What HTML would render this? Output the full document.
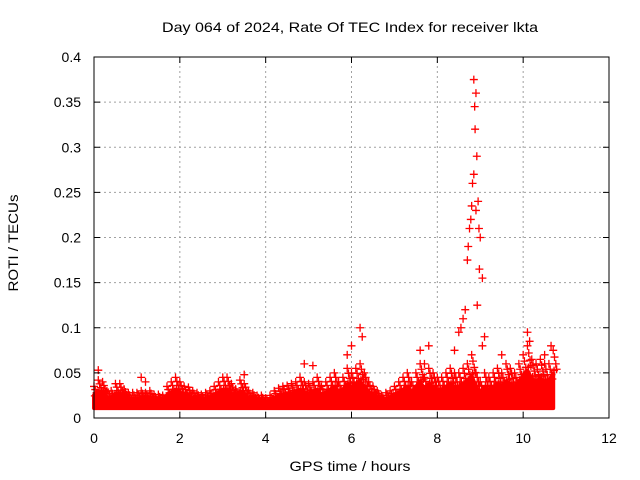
<!DOCTYPE html>
<html><head><meta charset="utf-8"><style>
body{margin:0;background:#fff;}
svg{display:block;font-family:"Liberation Sans",sans-serif;}
</style></head><body>
<svg id="chart" width="640" height="480">
<text x="350" y="32" font-size="14" text-anchor="middle" textLength="376" lengthAdjust="spacingAndGlyphs">Day 064 of 2024, Rate Of TEC Index for receiver lkta</text>
<text x="350" y="471" font-size="14" text-anchor="middle" textLength="121" lengthAdjust="spacingAndGlyphs">GPS time / hours</text>
<text transform="translate(18,243) rotate(-90)" font-size="14" text-anchor="middle" textLength="97" lengthAdjust="spacingAndGlyphs">ROTI / TECUs</text>
<g id="grid"></g><g id="marks"></g><g id="axes"></g>
</svg>
<script>
const xTicks=[0,2,4,6,8,10,12];
const yTicks=[0,0.05,0.1,0.15,0.2,0.25,0.3,0.35,0.4];
const yTickLabels=["0","0.05","0.1","0.15","0.2","0.25","0.3","0.35","0.4"];
const bandStart=0, bandStep=0.1;
const bandHigh=[0.035,0.042,0.04,0.03,0.03,0.038,0.038,0.032,0.028,0.028,0.028,
0.03,0.028,0.03,0.026,0.026,0.025,0.035,0.04,0.045,0.04,
0.035,0.034,0.03,0.028,0.026,0.028,0.03,0.035,0.04,0.045,
0.045,0.038,0.032,0.042,0.038,0.03,0.028,0.025,0.025,0.022,
0.025,0.03,0.033,0.035,0.036,0.038,0.04,0.045,0.04,0.038,
0.04,0.045,0.035,0.04,0.045,0.05,0.04,0.045,0.055,0.05,
0.055,0.06,0.05,0.04,0.035,0.03,0.025,0.028,0.03,0.035,
0.04,0.045,0.05,0.04,0.05,0.06,0.045,0.055,0.05,0.045,
0.045,0.05,0.055,0.05,0.05,0.055,0.06,0.07,0.05,0.04,
0.05,0.045,0.05,0.055,0.05,0.06,0.055,0.05,0.06,0.07,
0.08,0.065,0.06,0.065,0.06,0.06,0.075];
const bandLow=0.011;
const outT=[0.1,1.1,1.2,3.5,4.9,5.1,5.9,6.0,6.2,6.25,7.6,7.7,7.8,8.4,8.5,8.55,8.6,8.65,8.7,8.72,8.75,8.78,8.8,8.82,8.85,8.88,8.9,8.85,8.87,8.92,8.95,8.97,9.0,8.9,8.98,9.05,8.93,9.1,9.05,9.5,10.1,10.15,10.5,10.65];
const outV=[0.053,0.045,0.04,0.048,0.06,0.058,0.07,0.08,0.1,0.09,0.075,0.06,0.08,0.075,0.095,0.1,0.11,0.12,0.175,0.19,0.21,0.22,0.235,0.26,0.27,0.32,0.36,0.375,0.345,0.29,0.24,0.21,0.2,0.23,0.165,0.155,0.125,0.09,0.08,0.07,0.095,0.085,0.07,0.08];
const X0=94,X1=609,Y0=418,Y1=57;
const xs=v=>X0+(X1-X0)*v/12, ys=v=>Y0-(Y0-Y1)*v/0.4;
const NS="http://www.w3.org/2000/svg";
function mk(tag,attrs,parent){const e=document.createElementNS(NS,tag);for(const k in attrs)e.setAttribute(k,attrs[k]);parent.appendChild(e);return e;}
const grid=document.getElementById('grid'),marks=document.getElementById('marks'),axes=document.getElementById('axes');
xTicks.forEach((t,i)=>{const x=xs(t);
 if(i>0&&i<xTicks.length-1){const l=mk('line',{x1:x,x2:x,y1:Y0,y2:Y1,stroke:'#a0a0a0','stroke-dasharray':'2,3'},grid);
 
 }
 mk('line',{x1:x,x2:x,y1:Y0,y2:Y0-6,stroke:'#000'},axes);mk('line',{x1:x,x2:x,y1:Y1,y2:Y1+6,stroke:'#000'},axes);
 const tx=mk('text',{x:x,y:Y0+25,'font-size':14,'text-anchor':'middle'},axes);tx.textContent=t;
 
 });
yTicks.forEach((t,i)=>{const y=ys(t);
 if(i>0&&i<yTicks.length-1){const l=mk('line',{x1:X0,x2:X1,y1:y,y2:y,stroke:'#a0a0a0','stroke-dasharray':'2,3'},grid);
 
 }
 mk('line',{x1:X0,x2:X0+6,y1:y,y2:y,stroke:'#000'},axes);mk('line',{x1:X1,x2:X1-6,y1:y,y2:y,stroke:'#000'},axes);
 const tx=mk('text',{x:X0-13,y:y+5,'font-size':14,'text-anchor':'end'},axes);tx.textContent=yTickLabels[i];
 
 });
const fr=mk('rect',{x:X0,y:Y1,width:X1-X0,height:Y0-Y1,fill:'none',stroke:'#000'},axes);


let pts=[];bandHigh.forEach((v,i)=>pts.push(xs(bandStart+i*bandStep)+','+ys(bandLow+(v-bandLow)*0.6)));
pts.push(xs(bandStart+(bandHigh.length-1)*bandStep)+','+ys(bandLow));pts.push(xs(bandStart)+','+ys(bandLow));
const band=mk('polygon',{points:pts.join(' '),fill:'#ff0000',stroke:'#ff0000','stroke-width':4,'stroke-linejoin':'round'},marks);


function plus(t,v,name){const x=xs(t),y=ys(v);
 const p=mk('path',{d:`M${x-4},${y}h8M${x},${y-4}v8`,stroke:'#ff0000','stroke-width':1.3,fill:'none'},marks);
 
 }
bandHigh.forEach((v,i)=>{const t=bandStart+i*bandStep;
 plus(t,v,'roti-point');
 plus(t+0.03,v*0.9,'roti-point');
 plus(t+0.06,v*0.8,'roti-point');
 plus(t+0.02,v*0.7,'roti-point');
 plus(t+0.08,v*0.72,'roti-point');});
outT.forEach((t,i)=>plus(t,outV[i],'roti-outlier-point'));
</script>
</body></html>
